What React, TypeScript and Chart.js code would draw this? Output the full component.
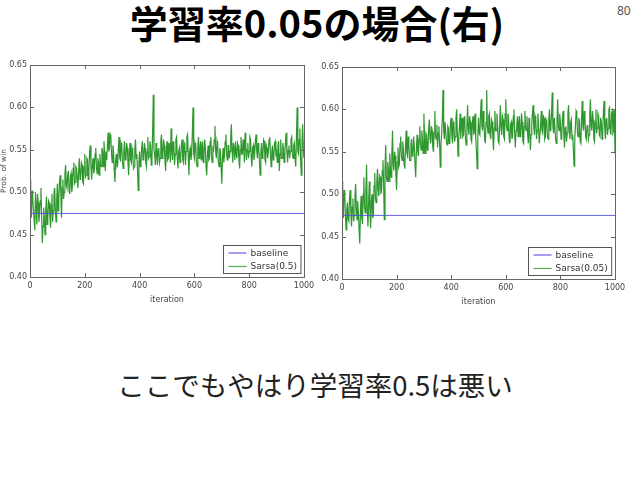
import React, { useEffect, useRef } from "react";
import { Chart, registerables } from "chart.js";
Chart.register(...registerables);

const TITLE = "学習率0.05の場合(右)";
const PAGE_NO = "80";
const CAPTION = "ここでもやはり学習率0.5は悪い";

const ITERATIONS: number[] = Array.from({ length: 401 }, (_, i) => i * 2.5);
const X_TICKS = [0, 200, 400, 600, 800, 1000];
const Y_TICKS = [0.4, 0.45, 0.5, 0.55, 0.6, 0.65];
const BASELINE = 0.475;

const SARSA_05: number[] = [
  0.515, 0.488, 0.470, 0.502, 0.492, 0.478, 0.468, 0.455, 0.500, 0.485, 0.462, 0.498, 0.488, 0.465, 0.475, 0.490, 0.505, 0.472, 0.440, 0.460,
  0.482, 0.468, 0.450, 0.478, 0.495, 0.462, 0.470, 0.490, 0.488, 0.472, 0.458, 0.485, 0.498, 0.465, 0.478, 0.500, 0.505, 0.480, 0.465, 0.492,
  0.510, 0.478, 0.492, 0.512, 0.520, 0.498, 0.470, 0.505, 0.515, 0.492, 0.500, 0.522, 0.532, 0.508, 0.505, 0.520, 0.525, 0.502, 0.498, 0.518,
  0.522, 0.500, 0.508, 0.528, 0.535, 0.510, 0.512, 0.530, 0.528, 0.515, 0.505, 0.525, 0.540, 0.515, 0.518, 0.535, 0.532, 0.512, 0.510, 0.530,
  0.545, 0.518, 0.520, 0.540, 0.538, 0.515, 0.525, 0.548, 0.555, 0.530, 0.515, 0.532, 0.540, 0.522, 0.528, 0.545, 0.552, 0.530, 0.522, 0.540,
  0.535, 0.520, 0.545, 0.532, 0.530, 0.552, 0.548, 0.530, 0.560, 0.545, 0.525, 0.548, 0.538, 0.555, 0.570, 0.548, 0.552, 0.568, 0.565, 0.545,
  0.535, 0.555, 0.548, 0.525, 0.512, 0.538, 0.545, 0.530, 0.532, 0.552, 0.565, 0.540, 0.538, 0.558, 0.555, 0.535, 0.528, 0.548, 0.560, 0.538,
  0.540, 0.558, 0.552, 0.535, 0.520, 0.545, 0.558, 0.538, 0.535, 0.552, 0.548, 0.528, 0.530, 0.550, 0.562, 0.540, 0.545, 0.525, 0.502, 0.535,
  0.548, 0.530, 0.535, 0.552, 0.560, 0.538, 0.540, 0.558, 0.552, 0.535, 0.530, 0.548, 0.565, 0.540, 0.542, 0.560, 0.555, 0.532, 0.538, 0.570,
  0.615, 0.550, 0.545, 0.532, 0.558, 0.545, 0.532, 0.550, 0.552, 0.535, 0.540, 0.560, 0.568, 0.540, 0.545, 0.562, 0.555, 0.538, 0.525, 0.548,
  0.560, 0.538, 0.540, 0.558, 0.552, 0.535, 0.575, 0.550, 0.538, 0.560, 0.555, 0.532, 0.545, 0.562, 0.565, 0.540, 0.528, 0.548, 0.552, 0.535,
  0.540, 0.555, 0.562, 0.538, 0.535, 0.558, 0.555, 0.532, 0.548, 0.565, 0.568, 0.545, 0.520, 0.548, 0.552, 0.538, 0.545, 0.570, 0.600, 0.545,
  0.540, 0.558, 0.555, 0.535, 0.530, 0.552, 0.565, 0.540, 0.548, 0.560, 0.538, 0.555, 0.560, 0.535, 0.545, 0.562, 0.552, 0.530, 0.520, 0.545,
  0.555, 0.538, 0.540, 0.560, 0.565, 0.542, 0.535, 0.552, 0.550, 0.562, 0.578, 0.548, 0.540, 0.560, 0.555, 0.535, 0.530, 0.552, 0.548, 0.530,
  0.510, 0.540, 0.552, 0.535, 0.545, 0.560, 0.568, 0.545, 0.538, 0.555, 0.555, 0.540, 0.548, 0.565, 0.580, 0.550, 0.535, 0.558, 0.552, 0.538,
  0.560, 0.545, 0.540, 0.558, 0.555, 0.538, 0.528, 0.550, 0.565, 0.545, 0.545, 0.562, 0.552, 0.535, 0.570, 0.555, 0.538, 0.550, 0.558, 0.540,
  0.548, 0.565, 0.562, 0.540, 0.530, 0.552, 0.555, 0.538, 0.545, 0.560, 0.568, 0.548, 0.540, 0.558, 0.552, 0.535, 0.520, 0.545, 0.558, 0.540,
  0.545, 0.562, 0.560, 0.538, 0.535, 0.555, 0.552, 0.540, 0.548, 0.562, 0.565, 0.545, 0.530, 0.548, 0.555, 0.538, 0.542, 0.558, 0.560, 0.545,
  0.548, 0.535, 0.555, 0.560, 0.525, 0.545, 0.562, 0.540, 0.540, 0.558, 0.552, 0.535, 0.545, 0.560, 0.570, 0.548, 0.535, 0.550, 0.555, 0.540,
  0.548, 0.562, 0.565, 0.545, 0.540, 0.555, 0.558, 0.538, 0.530, 0.565, 0.600, 0.548, 0.545, 0.562, 0.575, 0.540, 0.520, 0.555, 0.580, 0.552,
  0.540,
];

const SARSA_005: number[] = [
  0.515, 0.490, 0.472, 0.505, 0.500, 0.475, 0.458, 0.482, 0.490, 0.470, 0.468, 0.495, 0.505, 0.478, 0.462, 0.485, 0.495, 0.468, 0.475, 0.498,
  0.512, 0.485, 0.470, 0.492, 0.480, 0.458, 0.442, 0.478, 0.498, 0.472, 0.465, 0.500, 0.520, 0.485, 0.478, 0.505, 0.535, 0.482, 0.462, 0.490,
  0.515, 0.478, 0.460, 0.492, 0.500, 0.472, 0.478, 0.510, 0.525, 0.495, 0.490, 0.515, 0.530, 0.505, 0.498, 0.522, 0.520, 0.500, 0.505, 0.528,
  0.540, 0.512, 0.470, 0.528, 0.558, 0.520, 0.515, 0.538, 0.530, 0.515, 0.548, 0.530, 0.520, 0.545, 0.575, 0.535, 0.528, 0.550, 0.545, 0.522,
  0.505, 0.538, 0.555, 0.532, 0.535, 0.560, 0.568, 0.545, 0.540, 0.562, 0.552, 0.535, 0.530, 0.555, 0.575, 0.548, 0.545, 0.568, 0.558, 0.540,
  0.540, 0.558, 0.565, 0.545, 0.548, 0.568, 0.555, 0.535, 0.520, 0.552, 0.570, 0.550, 0.545, 0.565, 0.580, 0.558, 0.552, 0.575, 0.562, 0.548,
  0.595, 0.565, 0.548, 0.572, 0.570, 0.552, 0.555, 0.578, 0.588, 0.565, 0.560, 0.580, 0.575, 0.555, 0.550, 0.572, 0.598, 0.568, 0.565, 0.582,
  0.555, 0.572, 0.580, 0.560, 0.532, 0.558, 0.572, 0.590, 0.623, 0.575, 0.565, 0.585, 0.585, 0.562, 0.558, 0.580, 0.578, 0.560, 0.562, 0.585,
  0.590, 0.568, 0.560, 0.585, 0.582, 0.562, 0.568, 0.590, 0.600, 0.572, 0.545, 0.568, 0.578, 0.595, 0.565, 0.582, 0.590, 0.568, 0.570, 0.592,
  0.582, 0.565, 0.558, 0.580, 0.605, 0.578, 0.570, 0.592, 0.585, 0.565, 0.562, 0.585, 0.592, 0.570, 0.575, 0.595, 0.565, 0.552, 0.530, 0.568,
  0.590, 0.572, 0.570, 0.595, 0.612, 0.580, 0.575, 0.598, 0.583, 0.565, 0.560, 0.585, 0.623, 0.580, 0.572, 0.592, 0.595, 0.570, 0.565, 0.588,
  0.585, 0.568, 0.552, 0.578, 0.598, 0.575, 0.575, 0.595, 0.580, 0.562, 0.560, 0.582, 0.605, 0.578, 0.570, 0.592, 0.588, 0.568, 0.565, 0.595,
  0.612, 0.580, 0.575, 0.595, 0.590, 0.565, 0.560, 0.582, 0.585, 0.565, 0.570, 0.592, 0.600, 0.572, 0.555, 0.575, 0.580, 0.592, 0.568, 0.585,
  0.592, 0.568, 0.572, 0.595, 0.585, 0.562, 0.560, 0.580, 0.598, 0.578, 0.575, 0.592, 0.570, 0.560, 0.590, 0.575, 0.552, 0.570, 0.582, 0.595,
  0.605, 0.578, 0.570, 0.592, 0.588, 0.565, 0.575, 0.595, 0.582, 0.560, 0.560, 0.580, 0.598, 0.575, 0.572, 0.592, 0.590, 0.565, 0.568, 0.588,
  0.585, 0.568, 0.565, 0.588, 0.600, 0.575, 0.578, 0.595, 0.620, 0.580, 0.572, 0.590, 0.590, 0.565, 0.560, 0.585, 0.612, 0.580, 0.575, 0.595,
  0.585, 0.565, 0.568, 0.590, 0.598, 0.572, 0.555, 0.578, 0.580, 0.562, 0.572, 0.595, 0.605, 0.578, 0.565, 0.585, 0.588, 0.565, 0.570, 0.552,
  0.533, 0.565, 0.580, 0.598, 0.595, 0.572, 0.568, 0.590, 0.585, 0.562, 0.560, 0.588, 0.610, 0.580, 0.575, 0.598, 0.590, 0.568, 0.565, 0.580,
  0.582, 0.565, 0.570, 0.595, 0.612, 0.580, 0.575, 0.598, 0.588, 0.565, 0.562, 0.585, 0.600, 0.572, 0.578, 0.595, 0.592, 0.570, 0.568, 0.590,
  0.585, 0.565, 0.572, 0.598, 0.610, 0.578, 0.565, 0.588, 0.590, 0.570, 0.578, 0.600, 0.602, 0.575, 0.570, 0.595, 0.598, 0.572, 0.575, 0.600,
  0.548,
];

const FONT = "'DejaVu Sans', sans-serif";
const AXIS_COLOR = "#666";
const TEXT_COLOR = "#444";

const framePlugin = {
  id: "frameTicks",
  afterDatasetsDraw(chart: any) {
    const { ctx, chartArea: a, scales } = chart;
    ctx.save();
    ctx.strokeStyle = AXIS_COLOR;
    ctx.lineWidth = 1;
    const L = 4;
    ctx.beginPath();
    for (const t of X_TICKS) {
      const px = Math.round(scales.x.getPixelForValue(t)) + 0.5;
      ctx.moveTo(px, a.bottom);
      ctx.lineTo(px, a.bottom - L);
      ctx.moveTo(px, a.top);
      ctx.lineTo(px, a.top + L);
    }
    for (const t of Y_TICKS) {
      const py = Math.round(scales.y.getPixelForValue(t)) + 0.5;
      ctx.moveTo(a.left, py);
      ctx.lineTo(a.left + L, py);
      ctx.moveTo(a.right, py);
      ctx.lineTo(a.right - L, py);
    }
    ctx.stroke();
    ctx.strokeRect(
      Math.round(a.left) + 0.5,
      Math.round(a.top) + 0.5,
      Math.round(a.right - a.left),
      Math.round(a.bottom - a.top)
    );
    // legend inside plot, lower right
    ctx.font = `9px ${FONT}`;
    const items = chart.data.datasets.map((d: any) => ({ label: d.label, color: d.legendColor }));
    const tw = Math.max(...items.map((i: any) => ctx.measureText(i.label).width));
    const lineLen = 18;
    const w = 5 + lineLen + 4 + tw + 4;
    const h = 28;
    const bx = Math.round(a.right - 4 - w) + 0.5;
    const by = Math.round(a.bottom - 4 - h) + 0.5;
    ctx.fillStyle = "#fff";
    ctx.fillRect(bx, by, w, h);
    ctx.strokeStyle = "#555";
    ctx.strokeRect(bx, by, w, h);
    items.forEach((it: any, i: number) => {
      const y = by + 7.5 + i * 13.5;
      ctx.strokeStyle = it.color;
      ctx.lineWidth = 1.2;
      ctx.beginPath();
      ctx.moveTo(bx + 5, y);
      ctx.lineTo(bx + 5 + lineLen, y);
      ctx.stroke();
      ctx.fillStyle = "#333";
      ctx.textBaseline = "middle";
      ctx.textAlign = "left";
      ctx.fillText(it.label, bx + 5 + lineLen + 4, y + 0.5);
    });
    ctx.restore();
  },
};

function LineChart(props: { values: number[]; label: string; yTitle: string; width: number }) {
  const ref = useRef<HTMLCanvasElement | null>(null);
  useEffect(() => {
    if (!ref.current) return;
    const chart = new Chart(ref.current, {
      type: "line",
      data: {
        datasets: [
          {
            label: "baseline",
            data: [
              { x: 0, y: BASELINE },
              { x: 1000, y: BASELINE },
            ],
            borderColor: "rgba(80,80,225,0.9)",
            legendColor: "rgba(80,80,225,0.9)",
            borderWidth: 1,
            pointRadius: 0,
          },
          {
            label: props.label,
            data: ITERATIONS.map((x, i) => ({ x, y: props.values[i] })),
            borderColor: "rgba(0,128,0,0.82)",
            legendColor: "rgba(40,150,40,0.8)",
            borderWidth: 1.2,
            pointRadius: 0,
            tension: 0,
          },
        ],
      },
      options: {
        responsive: false,
        animation: false,
        events: [],
        layout: { padding: { left: 0, right: 10, top: 10, bottom: 0 } },
        plugins: { legend: { display: false }, tooltip: { enabled: false } },
        scales: {
          x: {
            type: "linear",
            min: 0,
            max: 1000,
            afterBuildTicks: (s: any) => {
              s.ticks = X_TICKS.map((v) => ({ value: v }));
            },
            afterFit: (s: any) => {
              s.height = 28;
              s.paddingRight = 0;
              s.paddingLeft = 0;
            },
            grid: { display: false, drawTicks: false },
            border: { display: false },
            ticks: {
              font: { family: FONT, size: 8 },
              color: TEXT_COLOR,
              padding: 4,
              maxRotation: 0,
              autoSkip: false,
              callback: (v: any) => String(v),
            },
            title: {
              display: true,
              text: "iteration",
              font: { family: FONT, size: 8 },
              color: TEXT_COLOR,
              padding: { top: 0, bottom: 0 },
            },
          },
          y: {
            min: 0.4,
            max: 0.65,
            afterBuildTicks: (s: any) => {
              s.ticks = Y_TICKS.map((v) => ({ value: v }));
            },
            afterFit: (s: any) => {
              s.width = 30;
              s.paddingTop = 0;
              s.paddingBottom = 0;
            },
            grid: { display: false, drawTicks: false },
            border: { display: false },
            ticks: {
              font: { family: FONT, size: 8 },
              color: TEXT_COLOR,
              padding: 3,
              callback: (v: any) => Number(v).toFixed(2),
            },
            title: {
              display: props.yTitle !== "",
              text: props.yTitle,
              font: { family: FONT, size: 7.5 },
              color: TEXT_COLOR,
              padding: { top: 0, bottom: 0 },
            },
          },
        },
      },
      plugins: [framePlugin],
    } as any);
    return () => chart.destroy();
  }, []);
  return <canvas ref={ref} width={props.width} height={250} style={{ display: "block" }} />;
}

export default function App() {
  return (
    <div
      style={{
        position: "fixed",
        left: 0,
        top: 0,
        width: 638,
        height: 479,
        background: "#fff",
        overflow: "hidden",
      }}
    >
      <div
        style={{
          position: "absolute",
          left: 0,
          top: 0,
          width: 634,
          height: 44,
          lineHeight: "44px",
          textAlign: "center",
          fontFamily: "'Noto Sans CJK JP', sans-serif",
          fontWeight: 700,
          fontSize: 38,
          color: "#000",
        }}
      >
        {TITLE}
      </div>
      <div
        style={{
          position: "absolute",
          left: 617,
          top: 2,
          fontFamily: "'Noto Sans', sans-serif",
          fontSize: 12,
          color: "#555",
        }}
      >
        {PAGE_NO}
      </div>
      <div style={{ position: "absolute", left: 0, top: 55 }}>
        <LineChart values={SARSA_05} label="Sarsa(0.5)" yTitle="Prob. of win" width={314} />
      </div>
      <div style={{ position: "absolute", left: 312, top: 57 }}>
        <LineChart values={SARSA_005} label="Sarsa(0.05)" yTitle="" width={313} />
      </div>
      <div
        style={{
          position: "absolute",
          left: 0,
          top: 366,
          width: 630,
          textAlign: "center",
          fontFamily: "'Noto Sans CJK JP', sans-serif",
          fontSize: 27.5,
          color: "#222",
          lineHeight: "36px",
        }}
      >
        {CAPTION}
      </div>
    </div>
  );
}
